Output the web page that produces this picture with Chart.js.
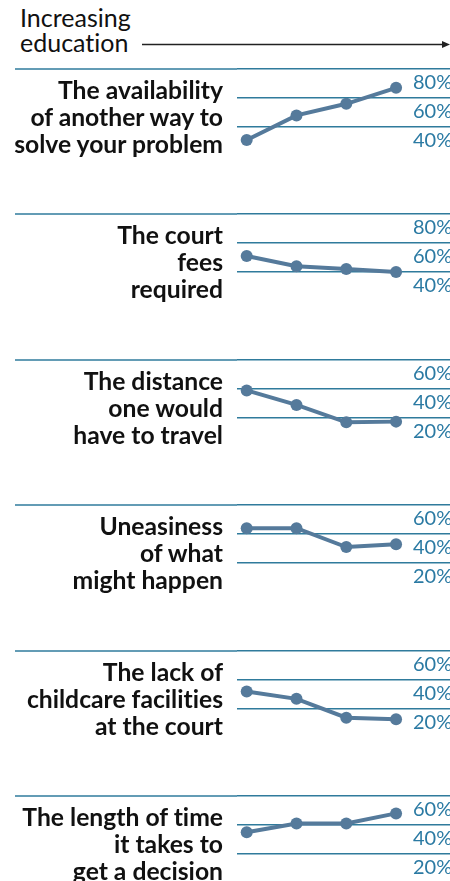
<!DOCTYPE html>
<html>
<head>
<meta charset="utf-8">
<script src="https://cdn.jsdelivr.net/npm/chart.js@4"></script>
<style>
  html, body { margin: 0; padding: 0; background: #fff; overflow: hidden; }
  body { width: 450px; height: 881px; position: relative; font-family: Lato, "Open Sans", sans-serif;
         font-variant-ligatures: none; }
  .head { position: absolute; left: 20px; top: 5px; font-size: 25px; line-height: 25px; color: #111; }
  .arrow { position: absolute; left: 142px; top: 38px; }
  .title { position: absolute; left: 0; width: 223px; text-align: right; font-weight: 700;
           font-size: 24.7px; line-height: 27px; color: #111; }
  canvas { position: absolute; left: 0; }
</style>
</head>
<body>
<div class="head">Increasing<br>education</div>
<svg class="arrow" width="310" height="14">
  <line x1="0" y1="6.5" x2="300" y2="6.5" stroke="#222" stroke-width="1.3"/>
  <polygon points="300,3 308,6.5 300,10" fill="#222"/>
</svg>

<script>
// education levels, low -> high
const levels = ['Level 1', 'Level 2', 'Level 3', 'Level 4'];

const titles = [
  ['The availability', 'of another way to', 'solve your problem'],
  ['The court', 'fees', 'required'],
  ['The distance', 'one would', 'have to travel'],
  ['Uneasiness', 'of what', 'might happen'],
  ['The lack of', 'childcare facilities', 'at the court'],
  ['The length of time', 'it takes to', 'get a decision']
];

// share of respondents (%)
const availability = [31, 48, 56, 67];
const courtFees = [51, 44, 42, 40];
const distance = [39, 29, 17, 17.5];
const uneasiness = [44, 44, 31, 33];
const childcare = [32, 27, 14, 13];
const lengthOfTime = [35, 41, 41, 48];

const series = [availability, courtFees, distance, uneasiness, childcare, lengthOfTime];

// top tick of each panel (three ticks, 20 apart)
const topTicks = [80, 80, 60, 60, 60, 60];

const lineColor = '#557a9b';
const gridColor = '#2f7b9c';
const tickColor = '#2b7aa3';

const topRule = {
  id: 'topRule',
  beforeDatasetsDraw(chart) {
    const y = chart.scales.y.getPixelForValue(chart.scales.y.max);
    const c = chart.ctx;
    c.save();
    c.strokeStyle = gridColor;
    c.lineWidth = 1.5;
    c.beginPath();
    c.moveTo(15, y);
    c.lineTo(chart.chartArea.left, y);
    c.stroke();
    c.restore();
  }
};

series.forEach((vals, i) => {
  const y0 = 69 + i * 145.4;
  const hi = topTicks[i];

  const t = document.createElement('div');
  t.className = 'title';
  t.style.top = (y0 + 7) + 'px';
  t.innerHTML = titles[i].join('<br>');

  const cv = document.createElement('canvas');
  cv.width = 458;
  cv.height = 118;
  cv.style.top = (y0 - 20) + 'px';
  document.body.appendChild(cv);
  document.body.appendChild(t);

  new Chart(cv.getContext('2d'), {
    type: 'line',
    data: {
      datasets: [{
        data: vals.map((v, k) => ({ x: k, y: v })),
        borderColor: lineColor,
        backgroundColor: lineColor,
        borderWidth: 4,
        pointRadius: 6,
        pointBorderWidth: 0,
        pointBackgroundColor: lineColor,
        clip: false
      }]
    },
    options: {
      responsive: false,
      animation: false,
      layout: { padding: { left: 237, top: 20, right: 0, bottom: 11 } },
      plugins: { legend: { display: false }, tooltip: { enabled: false } },
      scales: {
        x: {
          type: 'linear',
          display: false,
          min: -0.195,
          max: 3.34,
          ticks: { callback: v => levels[v] }
        },
        y: {
          position: 'right',
          min: hi - 60,
          max: hi,
          afterBuildTicks: s => { s.ticks = [{ value: hi - 40 }, { value: hi - 20 }, { value: hi }]; },
          afterFit: s => { s.width = 45; },
          border: { display: false },
          grid: { color: gridColor, lineWidth: 1.5, drawTicks: true, tickLength: 45 },
          ticks: {
            padding: -45,
            labelOffset: 14,
            color: tickColor,
            font: { family: 'Lato', size: 20 },
            callback: v => v + '%'
          }
        }
      }
    },
    plugins: [topRule]
  });
});
</script>
</body>
</html>
